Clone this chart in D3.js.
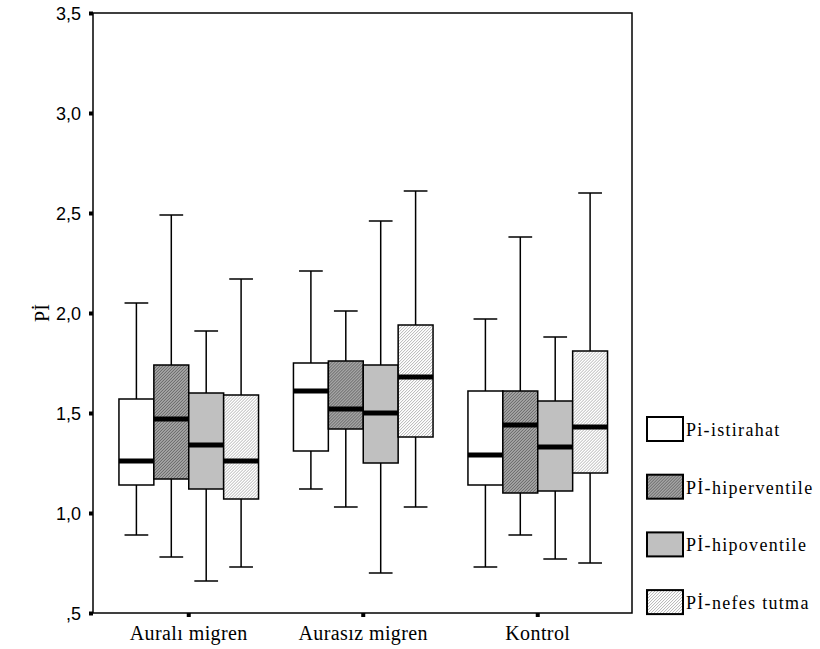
<!DOCTYPE html>
<html lang="tr">
<head>
    <meta charset="UTF-8">
    <title>Pİ boxplot</title>
    <script src="https://d3js.org/d3.v7.min.js"></script>
    <style>
        body { margin: 0; background: #fff; }
    </style>
</head>
<body>
    <script>
        // DATA
        var groups = ["Auralı migren", "Aurasız migren", "Kontrol"];
        var series = ["Pi-istirahat", "Pİ-hiperventile", "Pİ-hipoventile", "Pİ-nefes tutma"];
        var yTicks = [0.5, 1.0, 1.5, 2.0, 2.5, 3.0, 3.5];

        // [whisker low, Q1, median, Q3, whisker high] per group, one array per series
        var istirahat    = [[0.89, 1.14, 1.26, 1.57, 2.05], [1.12, 1.31, 1.61, 1.75, 2.21], [0.73, 1.14, 1.29, 1.61, 1.97]];
        var hiperventile = [[0.78, 1.17, 1.47, 1.74, 2.49], [1.03, 1.42, 1.52, 1.76, 2.01], [0.89, 1.10, 1.44, 1.61, 2.38]];
        var hipoventile  = [[0.66, 1.12, 1.34, 1.60, 1.91], [0.70, 1.25, 1.50, 1.74, 2.46], [0.77, 1.11, 1.33, 1.56, 1.88]];
        var nefesTutma   = [[0.73, 1.07, 1.26, 1.59, 2.17], [1.03, 1.38, 1.68, 1.94, 2.61], [0.75, 1.20, 1.43, 1.81, 2.60]];
        var seriesValues = [istirahat, hiperventile, hipoventile, nefesTutma];

        var SERIF = "'Liberation Serif', 'Times New Roman', serif";
        var SANS = "'Liberation Sans', Arial, sans-serif";

        var width = 820, height = 649;
        var plot = {left: 93, right: 632, top: 13, bottom: 613};

        var svg = d3.select("body").append("svg")
            .attr("width", width)
            .attr("height", height);

        // fill patterns
        var defs = svg.append("defs");
        function hatch(id, bg, fg) {
            var p = defs.append("pattern")
                .attr("id", id)
                .attr("patternUnits", "userSpaceOnUse")
                .attr("width", 3).attr("height", 3);
            p.append("rect").attr("width", 3).attr("height", 3).attr("fill", bg);
            p.append("path")
                .attr("d", "M-1,1 l2,-2 M0,3 l3,-3 M2,4 l2,-2")
                .attr("stroke", fg).attr("stroke-width", 1);
        }
        hatch("hatchDark", "#a4a4a4", "#666");
        hatch("hatchLight", "#fff", "#b4b4b4");
        var fills = ["#fff", "url(#hatchDark)", "#c0c0c0", "url(#hatchLight)"];

        var x = d3.scaleBand()
            .domain(groups)
            .range([101.5, 625]);

        var xs = d3.scaleBand()
            .domain(series)
            .range([x.bandwidth() * 0.1, x.bandwidth() * 0.9]);

        var y = d3.scaleLinear()
            .domain([0.5, 3.5])
            .range([plot.bottom, plot.top]);

        // frame
        svg.append("rect")
            .attr("x", plot.left).attr("y", plot.top)
            .attr("width", plot.right - plot.left)
            .attr("height", plot.bottom - plot.top)
            .attr("fill", "none").attr("stroke", "#000").attr("stroke-width", 1.5);

        // y axis
        var yAxis = svg.append("g")
            .attr("transform", "translate(" + plot.left + ",0)")
            .call(d3.axisLeft(y).tickValues(yTicks).tickSize(0).tickPadding(12)
                .tickFormat(function(d) { return d3.format(".1f")(d).replace(/^0/, "").replace(".", ","); }));
        yAxis.select(".domain").remove();
        yAxis.selectAll("text")
            .style("font-family", SANS)
            .style("font-size", "18px")
            .attr("dy", "0.36em")
            .attr("fill", "#000");
        yAxis.selectAll(".tick").append("rect")
            .attr("x", -4).attr("y", -2).attr("width", 4).attr("height", 4).attr("fill", "#000");

        // x axis
        var xAxis = svg.append("g")
            .attr("transform", "translate(0," + plot.bottom + ")")
            .call(d3.axisBottom(x).tickSize(0).tickPadding(13));
        xAxis.select(".domain").remove();
        xAxis.selectAll("text")
            .style("font-family", SERIF)
            .style("font-size", "20px")
            .style("letter-spacing", "0.4px")
            .attr("fill", "#000");
        xAxis.selectAll(".tick").append("rect")
            .attr("x", -2).attr("y", 0).attr("width", 4).attr("height", 4).attr("fill", "#000");

        // y title
        svg.append("text")
            .attr("transform", "translate(49," + y(2.0) + ") rotate(-90)")
            .attr("text-anchor", "middle")
            .style("font-family", SERIF)
            .style("font-size", "20px")
            .text("Pİ");

        // boxes
        var boxData = [];
        seriesValues.forEach(function(vals, si) {
            vals.forEach(function(v, gi) {
                boxData.push({group: groups[gi], series: series[si], si: si,
                    lo: v[0], q1: v[1], med: v[2], q3: v[3], hi: v[4]});
            });
        });

        var boxes = svg.append("g").selectAll("g")
            .data(boxData)
            .enter().append("g")
            .attr("transform", function(d) { return "translate(" + (x(d.group) + xs(d.series)) + ",0)"; });

        var bw = xs.bandwidth();
        var capW = bw * 0.68;

        // whiskers
        boxes.append("line")
            .attr("x1", bw / 2).attr("x2", bw / 2)
            .attr("y1", function(d) { return y(d.hi); })
            .attr("y2", function(d) { return y(d.lo); })
            .attr("stroke", "#000").attr("stroke-width", 1.5);
        boxes.append("line")
            .attr("x1", (bw - capW) / 2).attr("x2", (bw + capW) / 2)
            .attr("y1", function(d) { return y(d.hi); })
            .attr("y2", function(d) { return y(d.hi); })
            .attr("stroke", "#000").attr("stroke-width", 1.5);
        boxes.append("line")
            .attr("x1", (bw - capW) / 2).attr("x2", (bw + capW) / 2)
            .attr("y1", function(d) { return y(d.lo); })
            .attr("y2", function(d) { return y(d.lo); })
            .attr("stroke", "#000").attr("stroke-width", 1.5);

        boxes.append("rect")
            .attr("x", 0).attr("width", bw)
            .attr("y", function(d) { return y(d.q3); })
            .attr("height", function(d) { return y(d.q1) - y(d.q3); })
            .attr("fill", function(d) { return fills[d.si]; })
            .attr("stroke", "#000").attr("stroke-width", 1.5);

        boxes.append("line")
            .attr("x1", 0).attr("x2", bw)
            .attr("y1", function(d) { return y(d.med); })
            .attr("y2", function(d) { return y(d.med); })
            .attr("stroke", "#000").attr("stroke-width", 5);

        // legend
        var legend = svg.append("g").selectAll("g")
            .data(series)
            .enter().append("g")
            .attr("transform", function(d, i) { return "translate(647," + (417 + i * 57.7) + ")"; });
        legend.append("rect")
            .attr("width", 36).attr("height", 24)
            .attr("fill", function(d, i) { return fills[i]; })
            .attr("stroke", "#000").attr("stroke-width", 2);
        legend.append("text")
            .attr("x", 39).attr("y", 19)
            .style("font-family", SERIF)
            .style("font-size", "18px")
            .style("letter-spacing", "1.3px")
            .text(function(d) { return d; });
    </script>
</body>
</html>
